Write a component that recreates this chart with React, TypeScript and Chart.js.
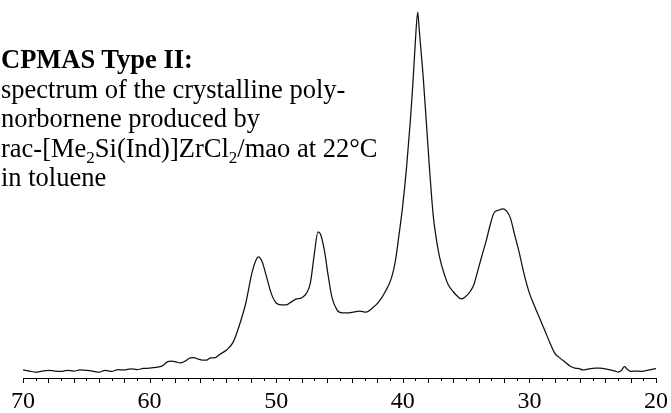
import React, { useEffect, useRef } from "react";
import { Chart, registerables } from "chart.js";

Chart.register(...registerables);

// Chemical shift (ppm) and relative intensity (tallest peak = 100)
const PPM = [
  70.0, 69.5, 69.0, 68.5, 68.0, 67.5, 67.0, 66.5, 66.0, 65.5, 65.0, 64.5, 64.0, 63.5, 63.0,
  62.5, 62.0, 61.5, 61.0, 60.5, 60.0, 59.5, 59.0, 58.6, 58.3, 58.0, 57.6, 57.2, 56.8, 56.5,
  56.2, 55.8, 55.5, 55.2, 54.9, 54.4, 53.9, 53.4, 52.9, 52.4, 51.9, 51.6, 51.4, 51.1, 50.8,
  50.4, 50.0, 49.6, 49.2, 48.8, 48.4, 48.0, 47.6, 47.3, 47.0, 46.7, 46.5, 46.2, 45.9, 45.6,
  45.2, 44.8, 44.4, 43.9, 43.4, 42.9, 42.4, 41.9, 41.4, 40.9, 40.6, 40.3, 40.0, 39.7, 39.4,
  39.2, 39.0, 38.82, 38.7, 38.5, 38.4, 38.1, 37.9, 37.6, 37.4, 37.1, 36.7, 36.4, 36.0, 35.7,
  35.4, 35.1, 34.7, 34.4, 34.1, 33.8, 33.4, 33.1, 32.8, 32.4, 32.1, 31.8, 31.5, 31.2, 30.8,
  30.4, 30.0, 29.6, 29.2, 28.8, 28.4, 28.0, 27.6, 27.2, 26.8, 26.4, 26.0, 25.8, 25.3, 24.8,
  24.4, 24.0, 23.6, 23.2, 23.0, 22.7, 22.5, 22.3, 22.0, 21.6, 21.2, 20.8, 20.4, 20.0,
];

const INTENSITY = [
  2.2, 1.9, 1.6, 1.9, 2.1, 1.9, 1.8, 2.1, 1.9, 2.2, 2.1, 1.9, 1.6, 2.1, 1.8,
  2.3, 2.2, 2.5, 2.3, 2.6, 2.7, 2.9, 3.3, 4.4, 4.6, 4.5, 4.1, 4.6, 5.5, 5.6,
  5.2, 4.9, 4.9, 5.5, 5.5, 6.6, 7.7, 9.8, 14.5, 20.5, 29.0, 32.2, 33.1, 31.7, 28.1,
  23.2, 20.5, 20.0, 20.0, 20.8, 21.6, 21.9, 23.2, 26.0, 33.6, 39.9, 39.3, 35.0, 28.1, 22.1,
  18.6, 17.8, 17.8, 18.0, 18.3, 18.0, 19.1, 20.8, 23.5, 27.3, 31.7, 39.1, 47.3, 57.7, 70.5,
  80.6, 92.4, 100.0, 95.1, 86.9, 82.8, 67.8, 57.7, 44.5, 39.1, 33.1, 28.1, 25.4, 23.5, 22.4,
  21.6, 22.1, 23.5, 25.4, 29.0, 32.8, 37.7, 41.8, 45.1, 45.9, 46.2, 45.6, 43.7, 39.6, 34.2,
  28.1, 23.2, 19.7, 16.4, 13.1, 9.8, 6.8, 5.5, 4.4, 3.3, 2.7, 2.5, 2.2, 2.5, 2.7,
  2.7, 2.5, 2.2, 1.9, 1.6, 2.2, 3.1, 2.5, 1.8, 1.9, 1.8, 2.0, 2.3, 2.6,
];

const X_MIN = 20;
const X_MAX = 70;
const LABEL_STEP = 10;
const MINOR_STEP = 1;

const TITLE = "CPMAS Type II:";

export default function App() {
  const ref = useRef<HTMLCanvasElement | null>(null);

  useEffect(() => {
    if (!ref.current) return;

    const minorTicks = {
      id: "minorTicks",
      afterDraw(chart: any) {
        const s = chart.scales.x;
        const ctx = chart.ctx;
        const y0 = chart.chartArea.bottom;
        ctx.save();
        ctx.strokeStyle = "#000";
        ctx.lineWidth = 1;
        for (let v = X_MIN; v <= X_MAX; v += MINOR_STEP) {
          const px = Math.round(s.getPixelForValue(v)) + 0.5;
          const len = v % 2 === 0 ? 5 : 3;
          ctx.beginPath();
          ctx.moveTo(px, y0);
          ctx.lineTo(px, y0 + len);
          ctx.stroke();
        }
        ctx.restore();
      },
    };

    const chart = new Chart(ref.current, {
      type: "line",
      data: {
        datasets: [
          {
            data: PPM.map((x, i) => ({ x, y: INTENSITY[i] })),
            borderColor: "#111",
            borderWidth: 1.25,
            pointRadius: 0,
            fill: false,
            cubicInterpolationMode: "monotone",
          },
        ],
      },
      options: {
        animation: false,
        responsive: true,
        maintainAspectRatio: false,
        layout: { padding: { left: 23, right: 15, top: 0, bottom: 0 } },
        plugins: { legend: { display: false }, tooltip: { enabled: false } },
        scales: {
          x: {
            type: "linear",
            reverse: true,
            min: X_MIN,
            max: X_MAX,
            grid: { display: false, drawTicks: false, tickLength: 0 },
            border: { display: true, color: "#000", width: 1 },
            ticks: {
              stepSize: LABEL_STEP,
              autoSkip: false,
              maxRotation: 0,
              padding: 9,
              color: "#000",
              font: { family: "'Liberation Serif', 'Times New Roman', serif", size: 24 },
            },
            afterFit(scale: any) {
              scale.height = 35;
              scale.paddingLeft = 0;
              scale.paddingRight = 0;
            },
          },
          y: {
            display: false,
            min: 0,
            max: 103.3,
          },
        },
      },
      plugins: [minorTicks],
    });
    return () => chart.destroy();
  }, []);

  const sub: React.CSSProperties = { fontSize: "17px", position: "relative", top: "6px", lineHeight: 0 };

  return (
    <div style={{ position: "fixed", left: 0, top: 0, width: 671, height: 413, background: "#fff" }}>
      <canvas ref={ref} />
      <div
        style={{
          position: "absolute",
          left: 1,
          top: 45,
          fontFamily: "'Liberation Serif', 'Times New Roman', serif",
          fontSize: "26.5px",
          lineHeight: "29.5px",
          color: "#000",
          whiteSpace: "nowrap",
        }}
      >
        <div style={{ fontWeight: "bold" }}>{TITLE}</div>
        <div>spectrum of the crystalline poly-</div>
        <div>norbornene produced by</div>
        <div>
          rac-[Me<span style={sub}>2</span>Si(Ind)]ZrCl<span style={sub}>2</span>/mao at 22°C
        </div>
        <div>in toluene</div>
      </div>
    </div>
  );
}
